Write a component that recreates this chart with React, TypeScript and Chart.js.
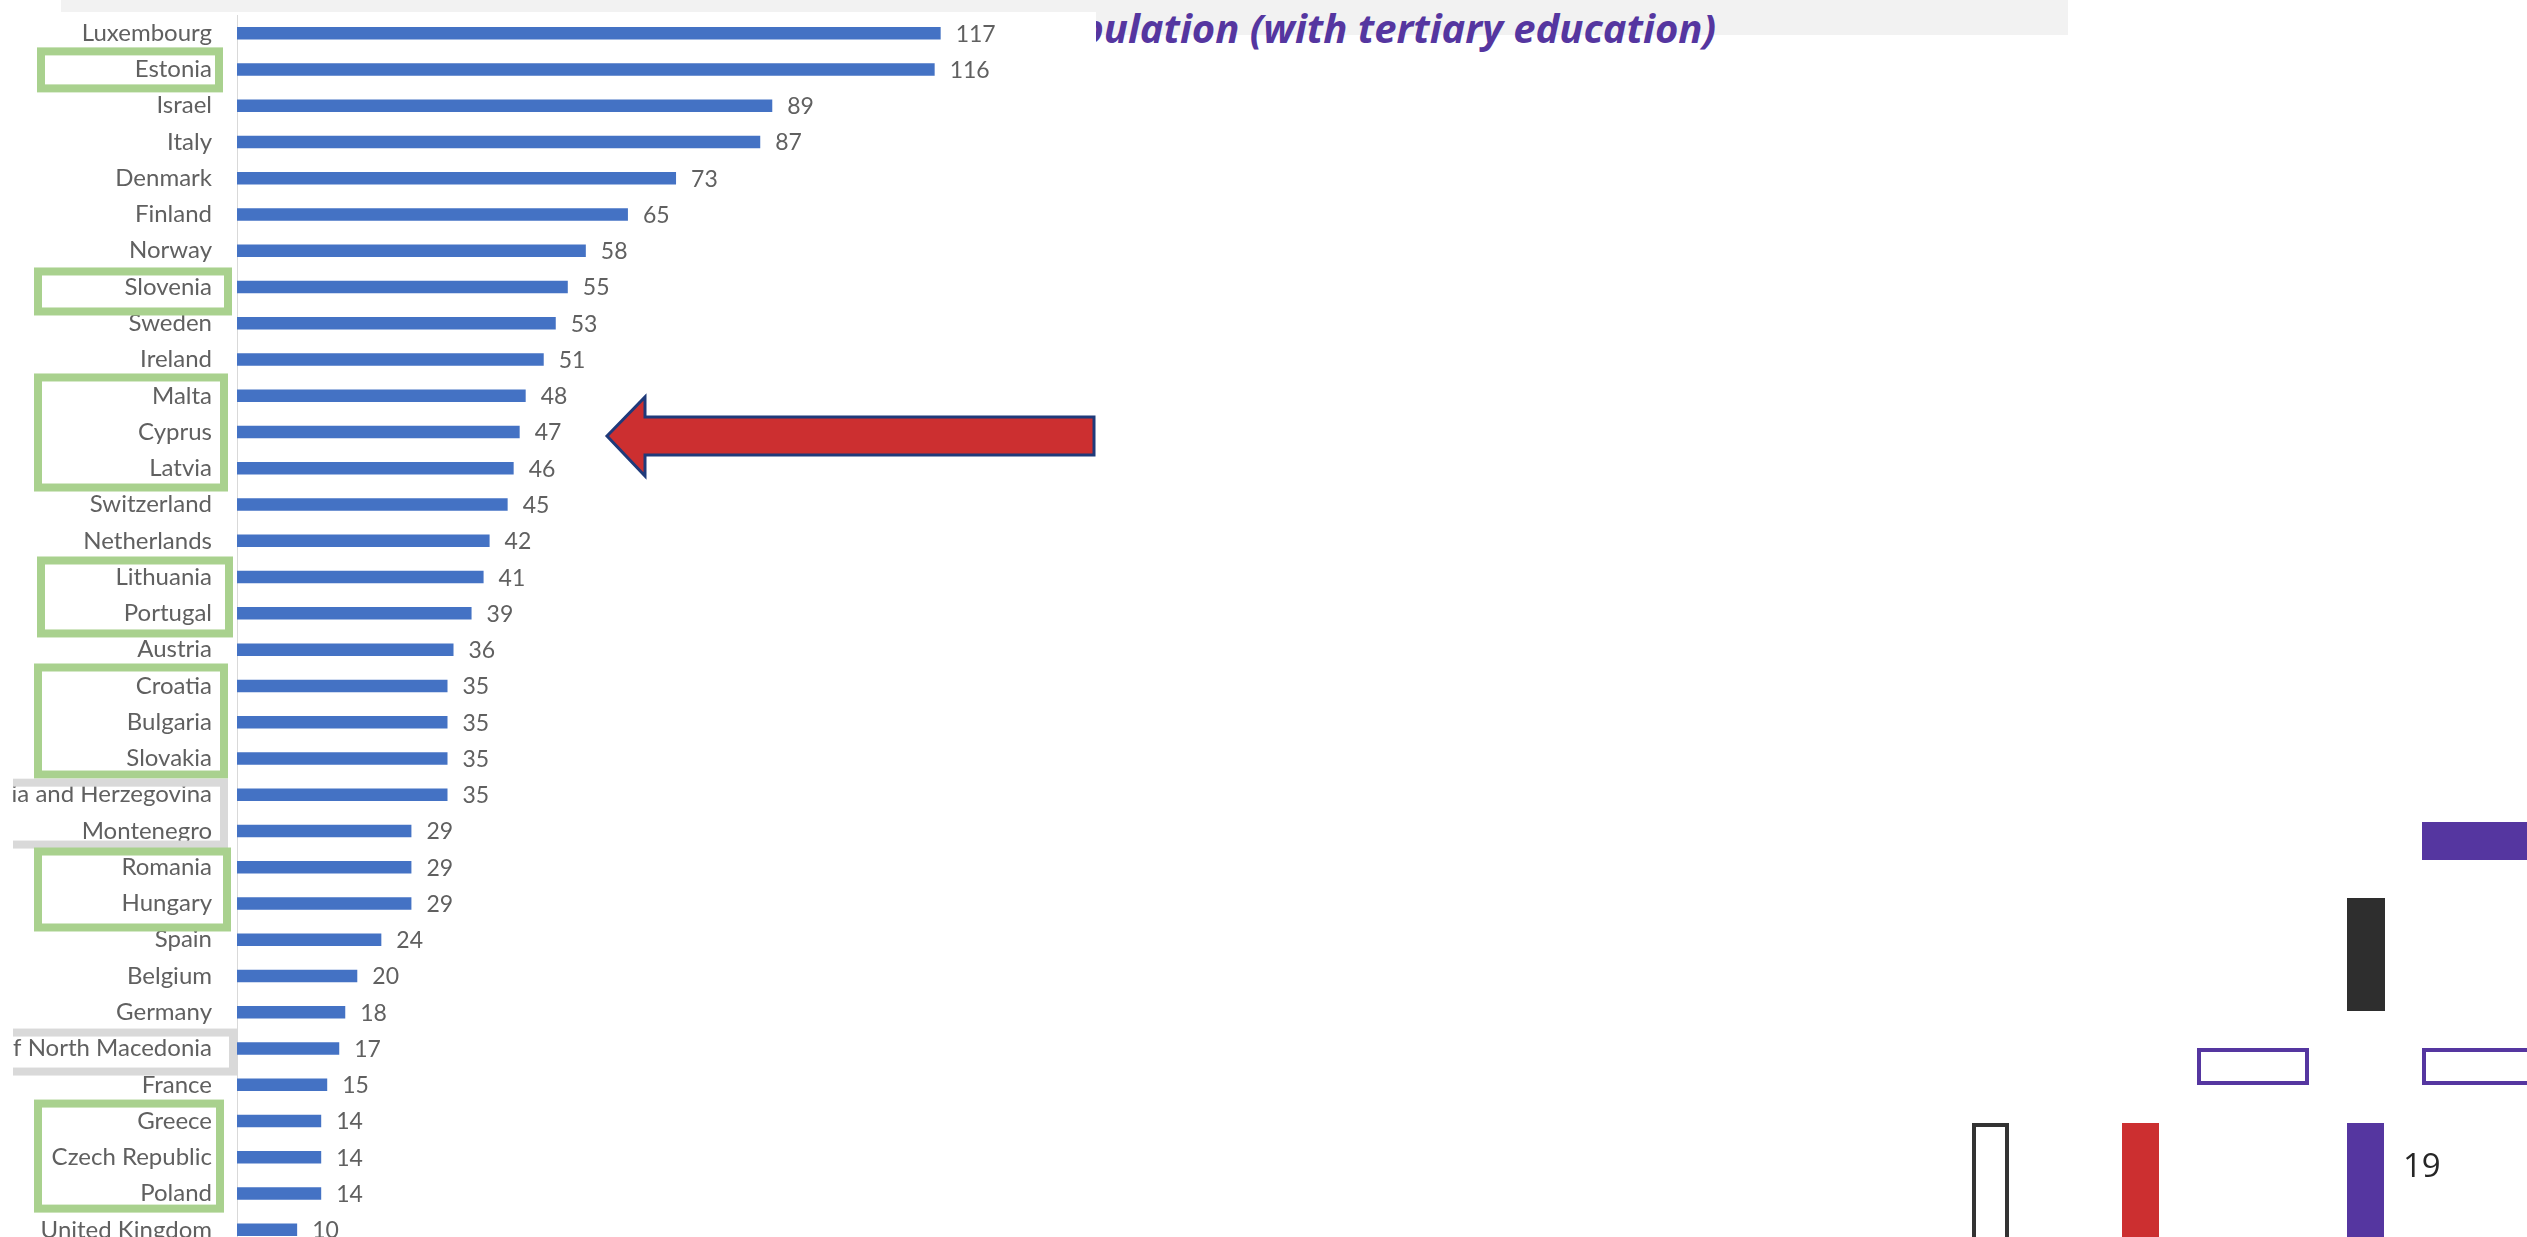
import React, { useEffect, useRef } from "react";
import { Chart, registerables } from "chart.js";

Chart.register(...registerables);

// ---------- data ----------
const countries: string[] = [
  "Luxembourg", "Estonia", "Israel", "Italy", "Denmark", "Finland", "Norway",
  "Slovenia", "Sweden", "Ireland", "Malta", "Cyprus", "Latvia", "Switzerland",
  "Netherlands", "Lithuania", "Portugal", "Austria", "Croatia", "Bulgaria",
  "Slovakia", "Bosnia and Herzegovina", "Montenegro", "Romania", "Hungary",
  "Spain", "Belgium", "Germany", "Republic of North Macedonia", "France",
  "Greece", "Czech Republic", "Poland", "United Kingdom",
];

const values: number[] = [
  117, 116, 89, 87, 73, 65, 58, 55, 53, 51, 48, 47, 46, 45, 42, 41, 39, 36,
  35, 35, 35, 35, 29, 29, 29, 24, 20, 18, 17, 15, 14, 14, 14, 10,
];

const titleText = "population (with tertiary education)";
const pageNumber = "19";

// ---------- styles ----------
const BAR_BLUE = "#4472C4";
const LABEL_GRAY = "#606060";
const GREEN = "#A9D18E";
const GRAY = "#D9D9D9";
const PURPLE = "#5536A0";
const RED = "#CC2F30";
const DARK = "#2E2E2E";
const LABEL_FONT = "Lato";
const LABEL_SIZE = 24;
const VALUE_SIZE = 23;

// annotation boxes around groups of country labels (canvas x, pad around row centres)
const labelBoxes = [
  { from: "Estonia", to: "Estonia", color: GREEN, x0: 28, x1: 206, padTop: 18, padBottom: 19 },
  { from: "Slovenia", to: "Slovenia", color: GREEN, x0: 25, x1: 215, padTop: 15.5, padBottom: 24.5 },
  { from: "Malta", to: "Latvia", color: GREEN, x0: 25, x1: 211, padTop: 18.3, padBottom: 19.2 },
  { from: "Lithuania", to: "Portugal", color: GREEN, x0: 28, x1: 216, padTop: 16.6, padBottom: 20.1 },
  { from: "Croatia", to: "Slovakia", color: GREEN, x0: 25, x1: 211, padTop: 18.4, padBottom: 16.1 },
  { from: "Bosnia and Herzegovina", to: "Montenegro", color: GRAY, x0: -40, x1: 211, padTop: 12, padBottom: 13.6 },
  { from: "Romania", to: "Hungary", color: GREEN, x0: 25, x1: 214, padTop: 15.7, padBottom: 24 },
  { from: "Republic of North Macedonia", to: "Republic of North Macedonia", color: GRAY, x0: -40, x1: 220, padTop: 16, padBottom: 23 },
  { from: "Greece", to: "Poland", color: GREEN, x0: 25, x1: 207, padTop: 17.5, padBottom: 15 },
];

const whiteBg = {
  id: "whiteBg",
  beforeDraw(chart: any) {
    const ctx = chart.ctx;
    ctx.save();
    ctx.fillStyle = "#FFFFFF";
    ctx.fillRect(0, 0, chart.width, chart.height);
    ctx.restore();
  },
};

const valueLabels = {
  id: "valueLabels",
  afterDatasetsDraw(chart: any) {
    const ctx = chart.ctx;
    const meta = chart.getDatasetMeta(0);
    ctx.save();
    ctx.font = `${VALUE_SIZE}px ${LABEL_FONT}`;
    ctx.fillStyle = LABEL_GRAY;
    ctx.textAlign = "left";
    ctx.textBaseline = "middle";
    meta.data.forEach((bar: any, i: number) => {
      ctx.fillText(String(values[i]), bar.x + 15, bar.y + 1);
    });
    ctx.restore();
  },
};

const boxesPlugin = {
  id: "labelBoxes",
  afterDraw(chart: any) {
    const ctx = chart.ctx;
    const y = chart.scales.y;
    ctx.save();
    ctx.lineWidth = 8;
    for (const b of labelBoxes) {
      const i0 = countries.indexOf(b.from);
      const i1 = countries.indexOf(b.to);
      const top = y.getPixelForValue(i0) - b.padTop;
      const bottom = y.getPixelForValue(i1) + b.padBottom;
      ctx.strokeStyle = b.color;
      ctx.strokeRect(b.x0, top, b.x1 - b.x0, bottom - top);
    }
    ctx.restore();
  },
};

function BarChart() {
  const ref = useRef<HTMLCanvasElement | null>(null);
  useEffect(() => {
    if (!ref.current) return;
    const chart = new Chart(ref.current, {
      type: "bar",
      data: {
        labels: countries,
        datasets: [
          {
            data: values,
            backgroundColor: BAR_BLUE,
            barPercentage: 0.345,
            categoryPercentage: 1,
          },
        ],
      },
      options: {
        indexAxis: "y",
        animation: false,
        responsive: false,
        maintainAspectRatio: false,
        devicePixelRatio: 1,
        layout: { padding: { top: 3, right: 17, bottom: 0, left: 0 } },
        plugins: {
          legend: { display: false },
          tooltip: { enabled: false },
          title: { display: false },
        },
        scales: {
          x: { display: false, min: 0, max: 140 },
          y: {
            afterFit: (s: any) => {
              s.width = 224;
              s.paddingTop = 0;
              s.paddingBottom = 0;
            },
            grid: { display: false, drawTicks: false },
            border: { display: true, color: "#D9D9D9", width: 1 },
            ticks: {
              autoSkip: false,
              padding: 25,
              color: LABEL_GRAY,
              font: { family: LABEL_FONT, size: LABEL_SIZE },
            },
          },
        },
      } as any,
      plugins: [whiteBg, valueLabels, boxesPlugin],
    });
    return () => chart.destroy();
  }, []);
  return (
    <canvas
      ref={ref}
      width={1083}
      height={1236}
      style={{ position: "absolute", left: 13, top: 12, display: "block" }}
    />
  );
}

export default function App() {
  return (
    <div
      style={{
        position: "fixed",
        left: 0,
        top: 0,
        width: 2527,
        height: 1237,
        overflow: "hidden",
        background: "#FFFFFF",
      }}
    >
      {/* slide background layer: header band + title (under the chart picture) */}
      <svg
        width={2527}
        height={1237}
        style={{ position: "absolute", left: 0, top: 0 }}
      >
        <rect x={61} y={0} width={2007} height={35} fill="#F2F2F2" />
        <text
          x={1716}
          y={43}
          textAnchor="end"
          fill={PURPLE}
          style={{
            fontFamily: "'Open Sans'",
            fontWeight: 700,
            fontStyle: "italic",
            fontSize: 40,
          }}
        >
          {titleText}
        </text>
      </svg>

      <BarChart />

      {/* overlay layer: arrow + decorative shapes + page number */}
      <svg
        width={2527}
        height={1237}
        style={{ position: "absolute", left: 0, top: 0 }}
      >
        <polygon
          points="607,436 645,397 645,417 1094,417 1094,455 645,455 645,476"
          fill={RED}
          stroke="#1F3A7A"
          strokeWidth={3}
          strokeLinejoin="miter"
        />
        <rect x={2422} y={822} width={130} height={38} fill={PURPLE} />
        <rect x={2347} y={898} width={38} height={113} fill={DARK} />
        <rect x={2199} y={1050} width={108} height={33} fill="none" stroke={PURPLE} strokeWidth={4} />
        <rect x={2424} y={1050} width={200} height={33} fill="none" stroke={PURPLE} strokeWidth={4} />
        <rect x={1974} y={1125} width={33} height={200} fill="none" stroke="#333333" strokeWidth={4} />
        <rect x={2122} y={1123} width={37} height={200} fill={RED} />
        <rect x={2347} y={1123} width={37} height={200} fill={PURPLE} />
        <text
          x={2403}
          y={1177}
          fill="#262626"
          style={{ fontFamily: "'Open Sans'", fontSize: 33 }}
        >
          {pageNumber}
        </text>
      </svg>
    </div>
  );
}
